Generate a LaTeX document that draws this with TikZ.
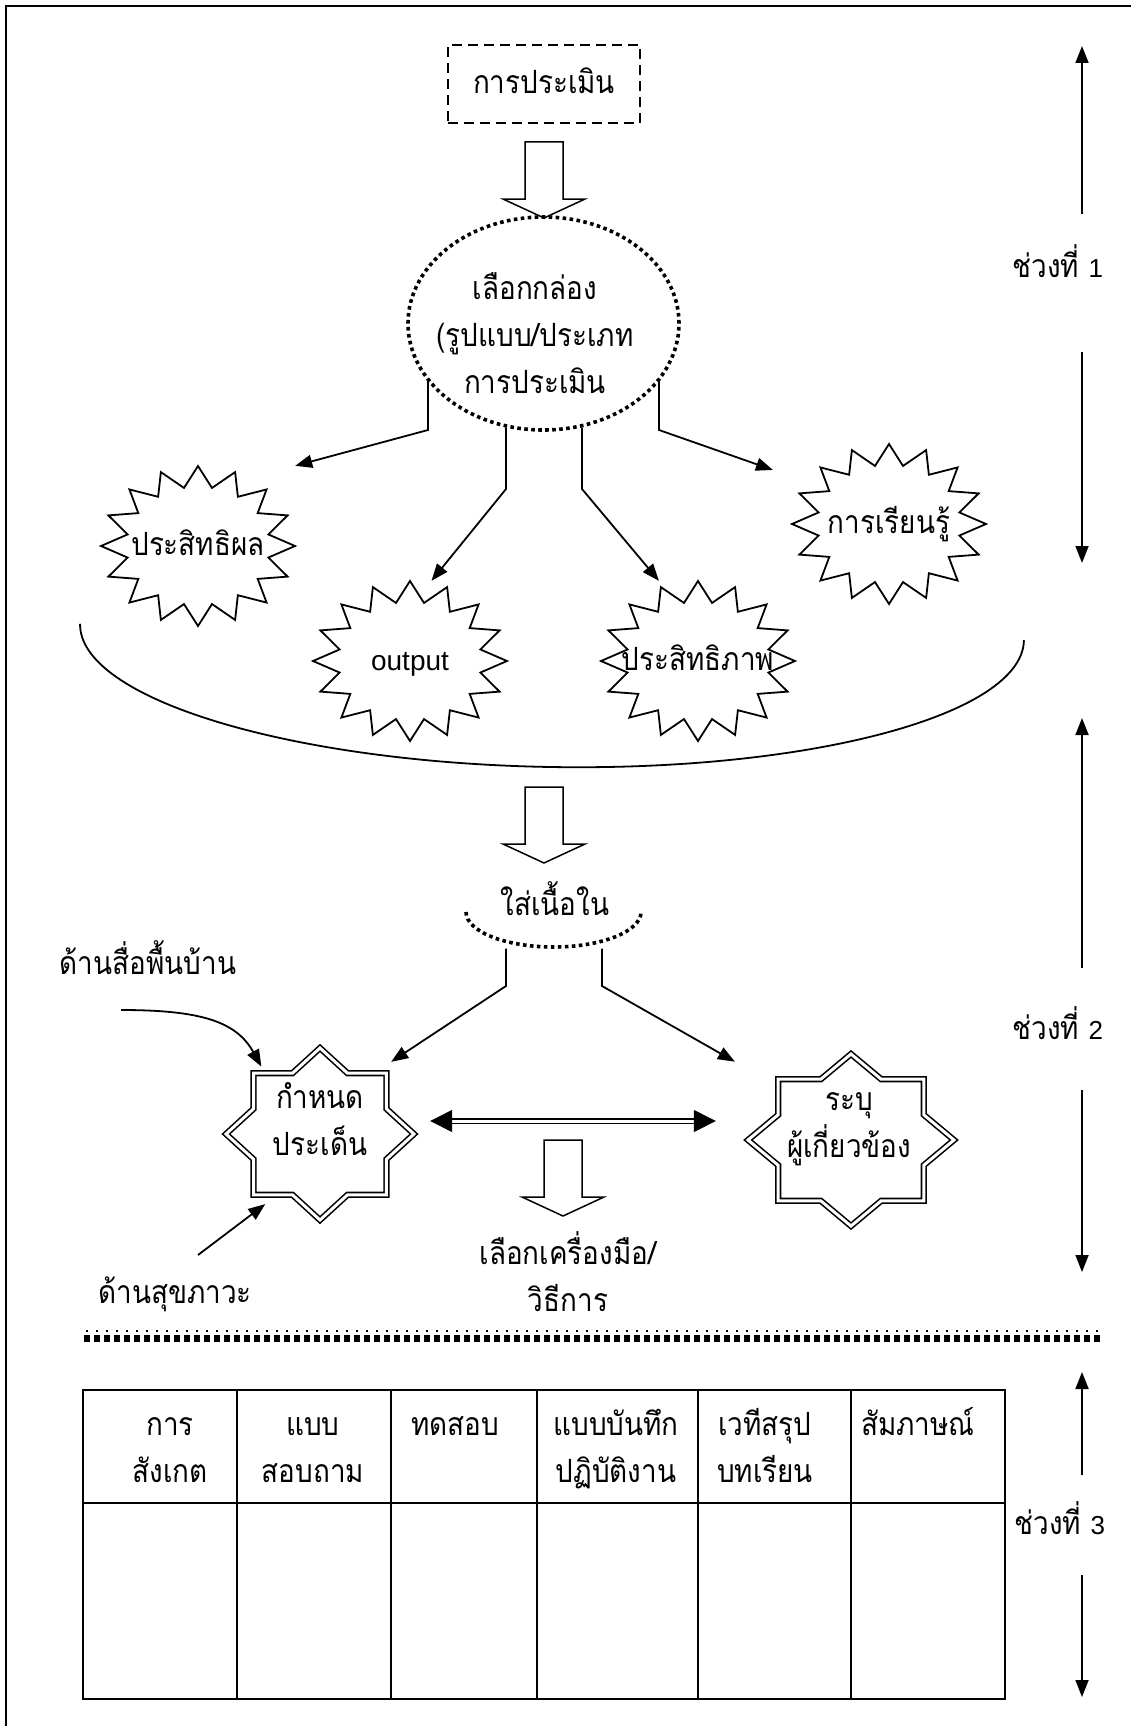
\documentclass[tikz,border=0pt]{standalone}
\usepackage{fontspec}
\setmainfont[Script=Thai,FakeStretch=0.87]{Loma}
\newfontfamily\latinfont{Liberation Sans}
\usepackage{tikz}
\usetikzlibrary{calc,arrows.meta,shapes.geometric}

% Lignes de texte centrées, à interligne fixe
\newcommand{\rows}[1]{\begin{tabular}{@{}c@{}}#1\end{tabular}}

% Contour en étoile autour d'un point (pointes, rayons, rapport intérieur)
\newcommand{\spikes}[6]{%
  \pgfmathtruncatemacro{\lastv}{2*#3-1}%
  \draw[#1] ($(#2)+(0:#4 and #5)$)
    \foreach \vi [evaluate=\vi as \rr using {1-(1-#6)*mod(\vi,2)}] in {1,...,\lastv}
    { -- ($(#2)+({\vi*180/#3}:\rr*#4 and \rr*#5)$) } -- cycle;}

% Grosse flèche creuse vers le bas
\newcommand{\blockarrow}[1]{%
  \draw[line width=1.5pt] (#1) ++(-19,0) -- ++(0,57) -- ++(-22,0) -- ++(41,19)
    -- ++(41,-19) -- ++(-22,0) -- ++(0,-57) -- cycle;}

\begin{document}
\begin{tikzpicture}[x=1pt,y=-1pt,>={Triangle[length=17pt,width=13pt]},
  txt/.style={inner sep=0pt,font=\fontsize{32}{47}\selectfont},
  burst/.style={txt,minimum width=194pt,minimum height=160pt},
  seal/.style={ellipse,inner sep=0pt,minimum height=172pt},
  flow/.style={line width=1.8pt,->},
  dotline/.style={line width=3.6pt,dash pattern=on 3.6pt off 3.4pt},
  twoway/.style={double,double distance=3pt,line width=1.4pt,
    {Triangle[length=22pt,width=22pt]}-{Triangle[length=22pt,width=22pt]}}]

    \useasboundingbox (0,0) rectangle (1131,1726);

    % Cadre de la page
    \draw[line width=1.8pt] (6,1726) -- (6,6) -- (1131,6);

    % L'évaluation en haut
    \node[txt,draw,line width=2.4pt,dash pattern=on 10pt off 6pt,
      minimum width=192pt,minimum height=78pt] (assess) at (544,84) {\rows{การประเมิน}};
    \coordinate (push1) at (544,142);
    \blockarrow{push1}

    % Choisir la boîte
    \node[ellipse,draw,dotline,minimum width=271pt,minimum height=213pt,inner sep=0pt] (choose) at (543.5,323.5) {};
    \node[txt] (choosetxt) at (535,337.5) {\rows{เลือกกล่อง\\(รูปแบบ/ประเภท\\การประเมิน}};

    % Les quatre étoiles
    \node[burst] (eff) at (198,546) {\rows{ประสิทธิผล}};
    \node[burst] (out) at (410,661) {\rows{\latinfont\fontsize{28}{47}\selectfont output}};
    \node[burst] (effi) at (698,661) {\rows{ประสิทธิภาพ}};
    \node[burst] (learn) at (889,524) {\rows{การเรียนรู้}};
    \spikes{line width=1.8pt}{eff}{16}{97}{80}{0.74}
    \spikes{line width=1.8pt}{out}{16}{97}{80}{0.74}
    \spikes{line width=1.8pt}{effi}{16}{97}{80}{0.74}
    \spikes{line width=1.8pt}{learn}{16}{97}{80}{0.74}

    % Flèches de l'ellipse vers les étoiles
    \coordinate (c1) at (428,430);
    \coordinate (c2) at (506,489);
    \coordinate (c3) at (582,489);
    \coordinate (c4) at (659,430);
    \draw[flow] (choose.206 -| c1) -- (c1) -- (eff.north east);
    \draw[flow] (choose.250 -| c2) -- (c2) -- (out.75);
    \draw[flow] (choose.290 -| c3) -- (c3) -- (effi.116);
    \draw[flow,shorten >=20pt] (choose.334 -| c4) -- (c4) -- (learn.154);

    % Le bol sous les étoiles
    \draw[line width=1.8pt,rotate around={-1:(552,632)}] (80,632) arc[start angle=180,end angle=0,x radius=472,y radius=135];
    \coordinate (push2) at (544,787);
    \blockarrow{push2}

    % Remplir le contenu
    \node[txt] (fill) at (555,905.5) {\rows{ใส่เนื้อใน}};
    \draw[dotline] (466,912) arc[start angle=180,end angle=0,x radius=87.5,y radius=35];

    % Les deux étoiles doubles
    \node[seal,minimum width=188pt] (topic) at (320,1134) {};
    \node[seal,minimum width=206pt] (actors) at (851,1140) {};
    \spikes{double,double distance=3pt,line width=1.6pt}{topic}{8}{94}{86}{0.7654}
    \spikes{double,double distance=3pt,line width=1.6pt}{actors}{8}{103}{86}{0.7654}
    \node[txt] (topictxt) at (320,1123) {\rows{กำหนด\\ประเด็น}};
    \node[txt] (actorstxt) at (849,1125) {\rows{ระบุ\\ผู้เกี่ยวข้อง}};

    \coordinate (d1) at (506,986);
    \coordinate (d2) at (602,986);
    \draw[flow,shorten <=19pt,shorten >=12pt] (d1 |- fill.south) -- (d1) -- (topic.47);
    \draw[flow,shorten <=19pt,shorten >=44pt] (d2 |- fill.south) -- (d2) -- (actors.144);
    \draw[twoway,shorten <=16pt,shorten >=32pt] ([yshift=13pt]topic.east) -- ([yshift=19pt]actors.west);

    % Les deux côtés
    \node[txt] (folk) at (148,965) {\rows{ด้านสื่อพื้นบ้าน}};
    \node[txt] (health) at (175,1294.5) {\rows{ด้านสุขภาวะ}};
    \coordinate (folkstart) at (121,1010);
    \coordinate (healthstart) at (198,1255);
    \draw[flow] (folkstart) .. controls +(80,0) and +(-25,-45) .. (topic.131);
    \draw[flow] (healthstart) -- (topic.232);

    % Choisir les outils
    \coordinate (push3) at (563,1140);
    \blockarrow{push3}
    \node[txt] (tools) at (568,1279) {\rows{เลือกเครื่องมือ/\\วิธีการ}};

    % Séparation en pointillés épais
    \draw[line width=7pt,dash pattern=on 6pt off 4pt] (84,1338) -- (1102,1338);
    \draw[line width=2pt,dash pattern=on 2pt off 8pt,dash phase=8pt] (84,1331) -- (1102,1331);

    % Tableau des outils
    \draw[line width=1.8pt] (83,1390) rectangle (1005,1699);
    \draw[line width=1.5pt] (83,1503) -- (1005,1503)
      (237,1390) -- (237,1699) (391,1390) -- (391,1699) (537,1390) -- (537,1699)
      (698,1390) -- (698,1699) (851,1390) -- (851,1699);
    \node[txt] (observe) at (170,1450) {\rows{การ\\สังเกต}};
    \node[txt] (survey) at (313,1450) {\rows{แบบ\\สอบถาม}};
    \node[txt] (quiz) at (455,1426.5) {\rows{ทดสอบ}};
    \node[txt] (record) at (616,1450) {\rows{แบบบันทึก\\ปฏิบัติงาน}};
    \node[txt] (forum) at (765,1450) {\rows{เวทีสรุป\\บทเรียน}};
    \node[txt] (interview) at (918,1426.5) {\rows{สัมภาษณ์}};

    % Les trois périodes à droite
    \node[txt] (part1) at (1058,268) {\rows{ช่วงที่ {\latinfont\fontsize{26}{47}\selectfont 1}}};
    \node[txt] (part2) at (1058,1030) {\rows{ช่วงที่ {\latinfont\fontsize{26}{47}\selectfont 2}}};
    \node[txt] (part3) at (1060,1525) {\rows{ช่วงที่ {\latinfont\fontsize{26}{47}\selectfont 3}}};
    \coordinate (top1) at (1082,46);
    \coordinate (bot1) at (1082,563);
    \coordinate (top2) at (1082,718);
    \coordinate (bot2) at (1082,1272);
    \coordinate (top3) at (1082,1372);
    \coordinate (bot3) at (1082,1697);
    \draw[flow,shorten <=30pt] (part1.north -| top1) -- (top1);
    \draw[flow,shorten <=60pt] (part1.south -| bot1) -- (bot1);
    \draw[flow,shorten <=38pt] (part2.north -| top2) -- (top2);
    \draw[flow,shorten <=36pt] (part2.south -| bot2) -- (bot2);
    \draw[flow,shorten <=26pt] (part3.north -| top3) -- (top3);
    \draw[flow,shorten <=26pt] (part3.south -| bot3) -- (bot3);
  \end{tikzpicture}
\end{document}
